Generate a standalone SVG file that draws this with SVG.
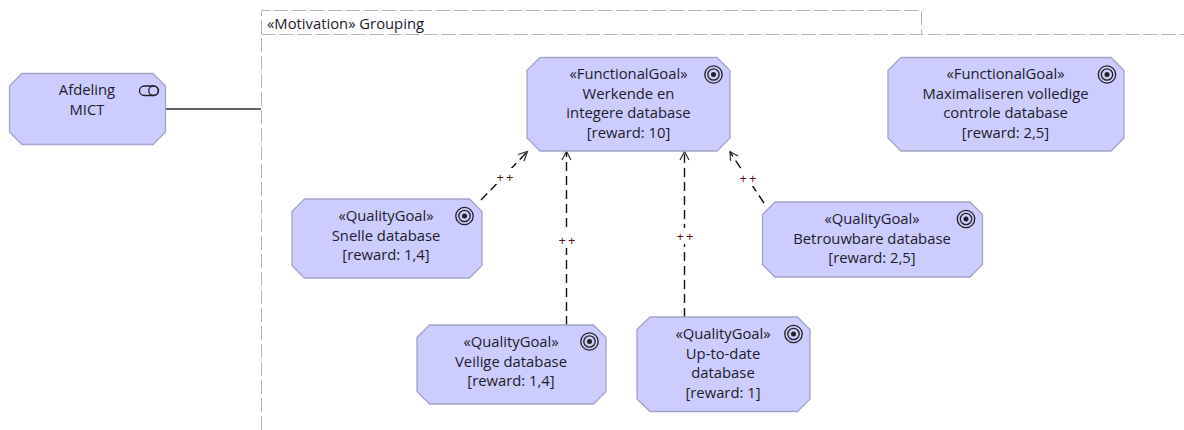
<svg xmlns="http://www.w3.org/2000/svg" width="1184" height="430" viewBox="0 0 1184 430">
<style>
.n{fill:#ccccff;stroke:#a3a3cc;stroke-width:1.3}
text{font-family:"Open Sans","Noto Sans","Liberation Sans",sans-serif;font-size:14.8px;fill:#1c1c2c}
.c{text-anchor:middle}
.g{fill:none;stroke:#b4b4b4;stroke-width:1;stroke-dasharray:14 4}
.d{fill:none;stroke:#111;stroke-width:1.4;stroke-dasharray:9 5}
.h{fill:none;stroke:#333;stroke-width:1.2}
text.p{font-size:13px;fill:#5a1010;letter-spacing:2px}
.r{fill:none;stroke:#222;stroke-width:1.3}
</style>
<defs>
<g id="goal"><circle r="8.7" class="r"/><circle r="5.7" class="r"/><circle r="2.5" fill="#222"/></g>
</defs>
<g id="grouping">
<path class="g" d="M261.500 430V10.500H921.500V34"/>
<path class="g" d="M261.500 34.500H1184"/>
<text x="267" y="28.500">«Motivation» Grouping</text>
</g>
<g id="connectors">
<path d="M165.500 109H261" fill="none" stroke="#333" stroke-width="1.5"/>
<path class="d" d="M481 200L527 152"/>
<path class="h" d="M518 154.500L527.500 151.500L524 161"/>
<path class="d" d="M566.500 325V152"/>
<path class="h" d="M562 160L566.500 151.500L571 160"/>
<path class="d" d="M684.500 317V152"/>
<path class="h" d="M680 160L684.500 151.500L689 160"/>
<path class="d" d="M764 203L730 152"/>
<path class="h" d="M730.500 161L730 151.500L738 156"/>
<rect x="494" y="168" width="24" height="16" fill="#fff"/>
<rect x="556" y="232" width="24" height="16" fill="#fff"/>
<rect x="674" y="228" width="24" height="16" fill="#fff"/>
<rect x="737" y="170" width="24" height="16" fill="#fff"/>
<text class="p" x="496.500" y="182">++</text>
<text class="p" x="558.500" y="245">++</text>
<text class="p" x="676.500" y="241">++</text>
<text class="p" x="739.500" y="183">++</text>
</g>
<g id="afdeling">
<path class="n" d="M22 73.500H153L165.500 86V132L153 144.500H22L9.500 132V86Z"/>
<text class="c" x="87" y="95">Afdeling</text>
<text class="c" x="87" y="114.500">MICT</text>
<rect x="139.500" y="86" width="19" height="9.500" rx="4.750" class="r"/>
<circle cx="153.500" cy="90.750" r="4.750" class="r"/>
</g>
<g id="werkende">
<path class="n" d="M540 57.500H717L730 70.500V138L717 151H540L527 138V70.500Z"/>
<text class="c" x="628.500" y="79">«FunctionalGoal»</text>
<text class="c" x="628.500" y="98.500">Werkende en</text>
<text class="c" x="628.500" y="118">integere database</text>
<text class="c" x="628.500" y="138">[reward: 10]</text>
<use href="#goal" x="713.500" y="74.500"/>
</g>
<g id="maximaliseren">
<path class="n" d="M901 57.500H1111L1124 70.500V138L1111 151H901L888 138V70.500Z"/>
<text class="c" x="1005.500" y="79">«FunctionalGoal»</text>
<text class="c" x="1005.500" y="98.500">Maximaliseren volledige</text>
<text class="c" x="1005.500" y="118">controle database</text>
<text class="c" x="1005.500" y="138">[reward: 2,5]</text>
<use href="#goal" x="1107" y="74.500"/>
</g>
<g id="snelle">
<path class="n" d="M304.500 199H469.500L482 211.500V265.500L469.500 278H304.500L292 265.500V211.500Z"/>
<text class="c" x="386" y="221">«QualityGoal»</text>
<text class="c" x="386" y="240.500">Snelle database</text>
<text class="c" x="386" y="260">[reward: 1,4]</text>
<use href="#goal" x="464.500" y="216"/>
</g>
<g id="veilige">
<path class="n" d="M429.500 325H593.500L606 337.500V391.500L593.500 404H429.500L417 391.500V337.500Z"/>
<text class="c" x="511" y="347">«QualityGoal»</text>
<text class="c" x="511" y="366.500">Veilige database</text>
<text class="c" x="511" y="386">[reward: 1,4]</text>
<use href="#goal" x="589.500" y="341.500"/>
</g>
<g id="betrouwbare">
<path class="n" d="M775 202H970L982.500 214.500V264.500L970 277H775L762.500 264.500V214.500Z"/>
<text class="c" x="872" y="224">«QualityGoal»</text>
<text class="c" x="872" y="243.500">Betrouwbare database</text>
<text class="c" x="872" y="263">[reward: 2,5]</text>
<use href="#goal" x="966" y="219"/>
</g>
<g id="uptodate">
<path class="n" d="M650 317H797.500L810 329.500V399L797.500 411.500H650L637 399V329.500Z"/>
<text class="c" x="723" y="339">«QualityGoal»</text>
<text class="c" x="723" y="358.500">Up-to-date</text>
<text class="c" x="723" y="378">database</text>
<text class="c" x="723" y="398">[reward: 1]</text>
<use href="#goal" x="793.500" y="334"/>
</g>
</svg>
